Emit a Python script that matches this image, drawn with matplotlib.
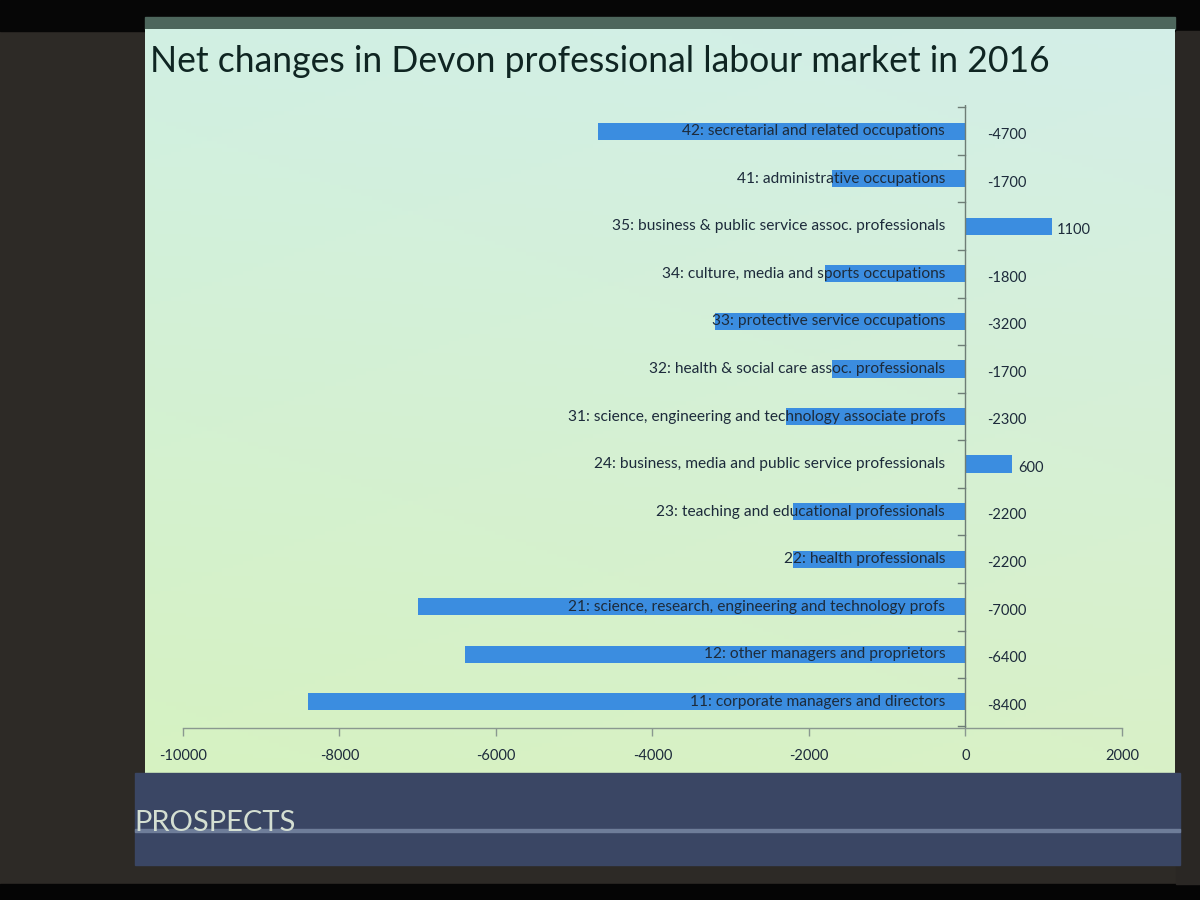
import matplotlib
matplotlib.use("Agg")
import matplotlib.pyplot as plt
import numpy as np
from matplotlib.patches import Rectangle
from matplotlib.ticker import FixedLocator

# categories bottom -> top
categories = [
    "11: corporate managers and directors",
    "12: other managers and proprietors",
    "21: science, research, engineering and technology profs",
    "22: health professionals",
    "23: teaching and educational professionals",
    "24: business, media and public service professionals",
    "31: science, engineering and technology associate profs",
    "32: health & social care assoc. professionals",
    "33: protective service occupations",
    "34: culture, media and sports occupations",
    "35: business & public service assoc. professionals",
    "41: administrative occupations",
    "42: secretarial and related occupations",
]
net_change = [-8400, -6400, -7000, -2200, -2200, 600, -2300, -1700, -3200, -1800, 1100, -1700, -4700]
x_ticks = [-10000, -8000, -6000, -4000, -2000, 0, 2000]

TITLE = "Net changes in Devon professional labour market in 2016"
FONT = ["Lato", "DejaVu Sans"]
TEXT_C = "#1d2b3b"
BAR_C = "#3b8de0"

W, H = 1200, 900
fig = plt.figure(figsize=(12, 9), dpi=100)
fig.patch.set_facecolor("#2d2a26")

# backdrop in pixel coordinates
bg = fig.add_axes([0, 0, 1, 1])
bg.set_xlim(0, W)
bg.set_ylim(H, 0)
bg.axis("off")
bg.add_patch(Rectangle((0, 0), W, 31, color="#060606"))
bg.add_patch(Rectangle((0, 884), W, 16, color="#050505"))
bg.add_patch(Rectangle((1176, 31), 24, 853, color="#2a2724"))
# slide top strip
bg.add_patch(Rectangle((145, 17), 1030, 12, color="#4d665c"))
# slide body gradient (cyan-ish top, greener bottom-left)
yy, xx = np.mgrid[0:1:200j, 0:1:200j]
top = np.array([0.82, 0.94, 0.89])
bot = np.array([0.84, 0.95, 0.76])
grad = top[None, None, :] * (1 - yy[..., None]) + bot[None, None, :] * yy[..., None]
grad = grad + (xx[..., None] * np.array([0.01, -0.005, 0.02]))
bg.imshow(np.clip(grad, 0, 1), extent=(145, 1175, 773, 29), aspect="auto", zorder=1)
# footer band
bg.add_patch(Rectangle((135, 773), 1045, 92, color="#3a4664", zorder=2))
bg.add_patch(Rectangle((135, 829), 1045, 2.5, color="#6e7d99", zorder=3))
bg.text(134, 836, "PROSPECTS", color="#d4dfd2", fontsize=21, ha="left", va="bottom",
        family=["Liberation Sans Narrow", "Lato", "DejaVu Sans"], zorder=4)
bg.text(150, 61, TITLE, color="#0f2522", fontsize=25.6, ha="left", va="center",
        family=FONT, zorder=4)

# chart axes: x -10000 -> px 183, 2000 -> px 1122; y-axis 105..728 px
ax = fig.add_axes([183 / W, 1 - 728 / H, (1122 - 183) / W, (728 - 105) / H])
ax.patch.set_alpha(0)
y = np.arange(len(categories))
ax.barh(y, net_change, height=0.36, color=BAR_C, linewidth=0, zorder=2)
ax.set_xlim(-10000, 2000)
ax.set_ylim(-0.55, len(categories) - 0.45)

ax.axvline(0, color="#6e7d76", lw=1.0, zorder=3)
for s in ("top", "right", "left"):
    ax.spines[s].set_visible(False)
ax.spines["bottom"].set_color("#8a9890")
ax.spines["bottom"].set_linewidth(1.0)
ax.xaxis.set_major_locator(FixedLocator(x_ticks))
ax.set_xticklabels([str(t) for t in x_ticks])
ax.tick_params(axis="x", colors="#8a9890", length=6, width=1.0, labelcolor=TEXT_C,
               labelsize=10.5, pad=9)
for lbl in ax.get_xticklabels():
    lbl.set_family(FONT)
ax.set_yticks([])
# small category ticks on the zero axis
for b in np.arange(len(categories) + 1) - 0.5:
    ax.plot([-90, 0], [b, b], color="#6e7d76", lw=1.0, zorder=3, clip_on=False)

for yi, cat, v in zip(y, categories, net_change):
    ax.text(-260, yi, cat, ha="right", va="center", fontsize=11.2, color=TEXT_C,
            family=FONT, zorder=4)
    off = 280 if v < 0 else 70
    ax.text(max(v, 0) + off, yi - 0.08, str(v), ha="left", va="center", fontsize=10.5,
            color=TEXT_C, family=FONT, zorder=4)

fig.savefig("out.png", dpi=100, facecolor=fig.get_facecolor())
